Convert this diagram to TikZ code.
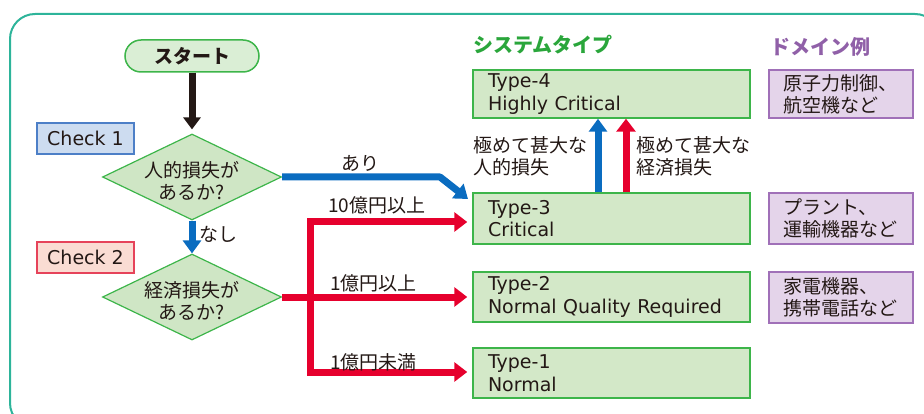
\documentclass[tikz,border=0pt]{standalone}
\usepackage{fontspec}
\setmainfont{DejaVu Sans}
\newfontfamily\jp{Noto Sans CJK JP}
\usetikzlibrary{shapes.geometric,arrows.meta,calc}
\definecolor{frame}{HTML}{2DB49A}
\definecolor{txt}{HTML}{231815}
\definecolor{tgreen}{HTML}{3DB54A}
\definecolor{tfill}{HTML}{D3E8C8}
\definecolor{sfill}{HTML}{DAEED5}
\definecolor{dfill}{HTML}{CFE6C5}
\definecolor{c1d}{HTML}{4D7FC7}
\definecolor{c1f}{HTML}{CDDCF0}
\definecolor{c2d}{HTML}{E6435A}
\definecolor{c2f}{HTML}{FADCD3}
\definecolor{pd}{HTML}{A070B8}
\definecolor{pf}{HTML}{E4D4EA}
\definecolor{hgreen}{HTML}{2AA63B}
\definecolor{hpurple}{HTML}{9060A8}
\definecolor{ablue}{HTML}{0A6CC0}
\definecolor{ared}{HTML}{E6002D}
\begin{document}
\begin{tikzpicture}[x=1pt,y=-1pt,
  every node/.style={text=txt},
  jpf/.style={font=\jp\fontsize{19}{22}\selectfont},
  typebox/.style={draw=tgreen, fill=tfill, line width=1.5pt, minimum width=277pt,
    inner xsep=15pt, inner ysep=0pt, text width=247pt, align=left,
    font=\fontsize{19}{22.5}\selectfont},
  dombox/.style={draw=pd, fill=pf, line width=1.5pt, minimum width=144pt, minimum height=49pt,
    inner xsep=14pt, inner ysep=0pt, text width=116pt, align=left, jpf},
  checkbox/.style={line width=1.2pt, minimum width=97pt, minimum height=31pt, inner sep=0pt,
    font=\fontsize{19}{22}\selectfont},
  dia/.style={diamond, draw=tgreen, fill=dfill, line width=1.2pt, inner sep=0pt,
    minimum width=179pt, minimum height=86pt},
  lbl/.style={inner sep=0pt, jpf},
  hdr/.style={inner sep=0pt, font=\jp\fontsize{20}{22}\selectfont\bfseries},
  blk/.style={draw=txt, line width=7pt, -{Triangle[width=17pt,length=12pt]}},
  blu/.style={draw=ablue, line width=7pt, line join=round, -{Triangle[width=18pt,length=13pt]}},
  redl/.style={draw=ared, line width=7pt, -{Triangle[width=19pt,length=13pt]}},
]
\useasboundingbox (0,0) rectangle (924,414);
\draw[frame, line width=2pt, rounded corners=25pt] (10,14) rectangle (940,428);

% left flow
\node[draw=tgreen, fill=sfill, line width=1.5pt, rounded corners=16pt, minimum width=134pt,
  minimum height=32pt, inner sep=0pt, font=\jp\fontsize{19}{22}\selectfont\bfseries] (start) at (192,56) {スタート};
\node[checkbox, draw=c1d, fill=c1f] (c1) at (85.5,138.5) {Check 1};
\node[checkbox, draw=c2d, fill=c2f] (c2) at (85.5,257.5) {Check 2};
\node[dia] (d1) at (192,177) {};
\node[lbl, align=center] (d1t) at (192,181) {人的損失が\\あるか?};
\node[dia] (d2) at (192,297) {};
\node[lbl, align=center] (d2t) at (192,301) {経済損失が\\あるか?};

% type boxes
\node[typebox, minimum height=48pt] (t4) at (611.5,94) {Type-4\\Highly Critical};
\node[typebox, minimum height=51pt] (t3) at (611.5,218.5) {Type-3\\Critical};
\node[typebox, minimum height=50pt] (t2) at (611.5,297) {Type-2\\Normal Quality Required};
\node[typebox, minimum height=50pt] (t1) at (611.5,373) {Type-1\\Normal};

% domain boxes
\node[dombox, minimum height=48pt] (p1) at (841,94) {原子力制御、\\航空機など};
\node[dombox, minimum height=51pt] (p2) at (841,218.5) {プラント、\\運輸機器など};
\node[dombox, minimum height=51pt] (p3) at (841,297.5) {家電機器、\\携帯電話など};

% headers
\node[hdr, text=hgreen, anchor=west] (h1) at (473,45) {システムタイプ};
\node[hdr, text=hpurple, anchor=west] (h2) at (770,47) {ドメイン例};

% connectors
\draw[blk, shorten >=4pt] (start) -- (d1);
\draw[blu] (d1.south) -- (d2.north);
\node[lbl] (nashi) at (218,234) {なし};

\coordinate (ariend) at (468,199);
\draw[blu] (d1.east) -- (440,177) -- (ariend);
\node[lbl] (ari) at (360,163) {あり};

\coordinate (rj) at (310,297);
\draw[redl, shorten >=5pt] (d2.east) -- (t2.west);
\draw[redl, shorten >=5pt] (rj) |- ([yshift=-3.5pt]t3.west);
\draw[redl, shorten >=5pt] (rj) |- ([yshift=1pt]t1.west);
\node[lbl, anchor=west] (r1) at (328,205) {10億円以上};
\node[lbl, anchor=west] (r2) at (330,283) {1億円以上};
\node[lbl, anchor=west] (r3) at (330,362) {1億円未満};

\draw[blu] (598,0 |- t3.north) -- (598,0 |- t4.south);
\draw[redl] (626,0 |- t3.north) -- (626,0 |- t4.south);
\node[lbl, align=left, anchor=west] (l1) at (473,156) {極めて甚大な\\人的損失};
\node[lbl, align=left, anchor=west] (l2) at (636,156) {極めて甚大な\\経済損失};
\end{tikzpicture}
\end{document}
